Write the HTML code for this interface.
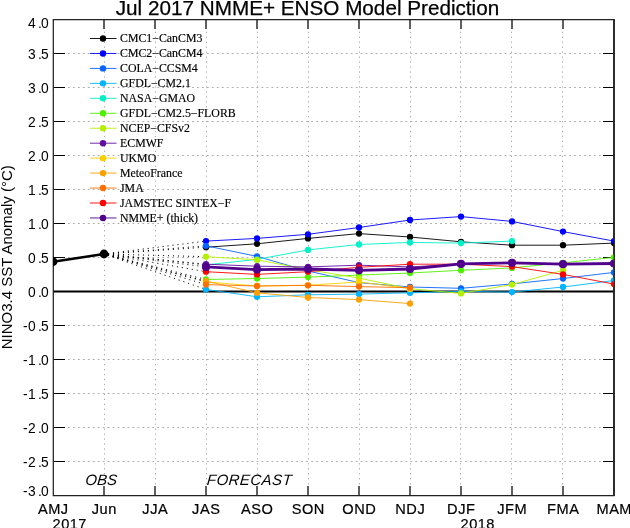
<!DOCTYPE html><html><head><meta charset="utf-8"><style>html,body{margin:0;padding:0;background:#fff;width:630px;height:528px;overflow:hidden}svg{display:block;will-change:transform}</style></head><body>
<svg width="630" height="528" viewBox="0 0 630 528">
<rect width="630" height="528" fill="#fff"/>
<path d="M68.0 53.5H603 M68.0 87.5H603 M68.0 121.5H603 M68.0 155.5H603 M68.0 189.5H603 M68.0 223.5H603 M68.0 257.5H603 M68.0 325.5H603 M68.0 359.5H603 M68.0 393.5H603 M68.0 427.5H603 M68.0 461.5H603" stroke="#ababab" stroke-width="1" stroke-dasharray="1.8 3.162" fill="none"/>
<path d="M104.5 31.7V486 M155.5 31.7V486 M206.5 31.7V486 M257.5 31.7V486 M308.5 31.7V486 M359.5 31.7V486 M410.5 31.7V486 M460.5 31.7V486 M511.5 31.7V486 M562.5 31.7V486" stroke="#ababab" stroke-width="1" stroke-dasharray="1.3 3.66" fill="none"/>
<path d="M53 291.4H614" stroke="#000" stroke-width="2" fill="none"/>
<path d="M53 19.5H65M603 19.5H614 M53 53.5H65M603 53.5H614 M53 87.5H65M603 87.5H614 M53 121.5H65M603 121.5H614 M53 155.5H65M603 155.5H614 M53 189.5H65M603 189.5H614 M53 223.5H65M603 223.5H614 M53 257.5H65M603 257.5H614 M53 291.5H65M603 291.5H614 M53 325.5H65M603 325.5H614 M53 359.5H65M603 359.5H614 M53 393.5H65M603 393.5H614 M53 427.5H65M603 427.5H614 M53 461.5H65M603 461.5H614 M53 495.5H65M603 495.5H614" stroke="#000" stroke-width="1.2" fill="none"/>
<path d="M104 495V486M104 19.5V29 M155 495V486M155 19.5V29 M206 495V486M206 19.5V29 M257 495V486M257 19.5V29 M308 495V486M308 19.5V29 M359 495V486M359 19.5V29 M410 495V486M410 19.5V29 M461 495V486M461 19.5V29 M512 495V486M512 19.5V29 M563 495V486M563 19.5V29" stroke="#444" stroke-width="1.7" fill="none"/>
<path d="M53.3 19.5H614V495.5H53.3Z" stroke="#222" stroke-width="1.25" fill="none"/>
<path d="M614 19V496" stroke="#222" stroke-width="1.7" fill="none"/>
<path d="M104.0 254.0L206.0 247.2 M104.0 254.0L206.0 241.1 M104.0 254.0L206.0 245.8 M104.0 254.0L206.0 289.4 M104.0 254.0L206.0 264.9 M104.0 254.0L206.0 279.5 M104.0 254.0L206.0 256.7 M104.0 254.0L206.0 264.2 M104.0 254.0L206.0 281.9 M104.0 254.0L206.0 281.2 M104.0 254.0L206.0 284.6 M104.0 254.0L206.0 271.7 M104.0 254.0L206.0 266.9" stroke="#000" stroke-width="1" stroke-dasharray="1.1 3.9" stroke-dashoffset="-4" fill="none"/>
<clipPath id="cf"><rect x="53" y="19" width="560.5" height="477"/></clipPath><g clip-path="url(#cf)">
<polyline points="206.0,247.2 257.0,243.8 308.0,238.4 359.0,233.6 410.0,237.0 461.0,241.8 512.0,245.2 563.0,245.2 614.0,243.1" stroke="#000000" stroke-width="0.9" fill="none" stroke-linejoin="round"/>
<circle cx="206.0" cy="247.2" r="3.15" fill="#000000"/><circle cx="257.0" cy="243.8" r="3.15" fill="#000000"/><circle cx="308.0" cy="238.4" r="3.15" fill="#000000"/><circle cx="359.0" cy="233.6" r="3.15" fill="#000000"/><circle cx="410.0" cy="237.0" r="3.15" fill="#000000"/><circle cx="461.0" cy="241.8" r="3.15" fill="#000000"/><circle cx="512.0" cy="245.2" r="3.15" fill="#000000"/><circle cx="563.0" cy="245.2" r="3.15" fill="#000000"/><circle cx="614.0" cy="243.1" r="3.15" fill="#000000"/>
<polyline points="206.0,241.1 257.0,238.4 308.0,234.3 359.0,227.5 410.0,220.0 461.0,216.6 512.0,221.4 563.0,231.6 614.0,241.1" stroke="#0000ff" stroke-width="0.9" fill="none" stroke-linejoin="round"/>
<circle cx="206.0" cy="241.1" r="3.15" fill="#0000ff"/><circle cx="257.0" cy="238.4" r="3.15" fill="#0000ff"/><circle cx="308.0" cy="234.3" r="3.15" fill="#0000ff"/><circle cx="359.0" cy="227.5" r="3.15" fill="#0000ff"/><circle cx="410.0" cy="220.0" r="3.15" fill="#0000ff"/><circle cx="461.0" cy="216.6" r="3.15" fill="#0000ff"/><circle cx="512.0" cy="221.4" r="3.15" fill="#0000ff"/><circle cx="563.0" cy="231.6" r="3.15" fill="#0000ff"/><circle cx="614.0" cy="241.1" r="3.15" fill="#0000ff"/>
<polyline points="206.0,245.8 257.0,256.4 308.0,271.0 359.0,282.6 410.0,287.0 461.0,288.3 512.0,283.9 563.0,278.5 614.0,272.4" stroke="#0a64ff" stroke-width="0.9" fill="none" stroke-linejoin="round"/>
<circle cx="206.0" cy="245.8" r="3.15" fill="#0a64ff"/><circle cx="257.0" cy="256.4" r="3.15" fill="#0a64ff"/><circle cx="308.0" cy="271.0" r="3.15" fill="#0a64ff"/><circle cx="359.0" cy="282.6" r="3.15" fill="#0a64ff"/><circle cx="410.0" cy="287.0" r="3.15" fill="#0a64ff"/><circle cx="461.0" cy="288.3" r="3.15" fill="#0a64ff"/><circle cx="512.0" cy="283.9" r="3.15" fill="#0a64ff"/><circle cx="563.0" cy="278.5" r="3.15" fill="#0a64ff"/><circle cx="614.0" cy="272.4" r="3.15" fill="#0a64ff"/>
<polyline points="206.0,289.4 257.0,296.8 308.0,294.8 359.0,294.1 410.0,292.8 461.0,291.4 512.0,292.1 563.0,287.0 614.0,280.5" stroke="#00b4ff" stroke-width="0.9" fill="none" stroke-linejoin="round"/>
<circle cx="206.0" cy="289.4" r="3.15" fill="#00b4ff"/><circle cx="257.0" cy="296.8" r="3.15" fill="#00b4ff"/><circle cx="308.0" cy="294.8" r="3.15" fill="#00b4ff"/><circle cx="359.0" cy="294.1" r="3.15" fill="#00b4ff"/><circle cx="410.0" cy="292.8" r="3.15" fill="#00b4ff"/><circle cx="461.0" cy="291.4" r="3.15" fill="#00b4ff"/><circle cx="512.0" cy="292.1" r="3.15" fill="#00b4ff"/><circle cx="563.0" cy="287.0" r="3.15" fill="#00b4ff"/><circle cx="614.0" cy="280.5" r="3.15" fill="#00b4ff"/>
<polyline points="206.0,264.9 257.0,259.4 308.0,249.9 359.0,244.5 410.0,242.4 461.0,243.1 512.0,241.1" stroke="#00f0c8" stroke-width="0.9" fill="none" stroke-linejoin="round"/>
<circle cx="206.0" cy="264.9" r="3.15" fill="#00f0c8"/><circle cx="257.0" cy="259.4" r="3.15" fill="#00f0c8"/><circle cx="308.0" cy="249.9" r="3.15" fill="#00f0c8"/><circle cx="359.0" cy="244.5" r="3.15" fill="#00f0c8"/><circle cx="410.0" cy="242.4" r="3.15" fill="#00f0c8"/><circle cx="461.0" cy="243.1" r="3.15" fill="#00f0c8"/><circle cx="512.0" cy="241.1" r="3.15" fill="#00f0c8"/>
<polyline points="206.0,279.5 257.0,278.5 308.0,277.1 359.0,275.1 410.0,273.0 461.0,270.3 512.0,267.9 563.0,262.8 614.0,257.4" stroke="#50f000" stroke-width="0.9" fill="none" stroke-linejoin="round"/>
<circle cx="206.0" cy="279.5" r="3.15" fill="#50f000"/><circle cx="257.0" cy="278.5" r="3.15" fill="#50f000"/><circle cx="308.0" cy="277.1" r="3.15" fill="#50f000"/><circle cx="359.0" cy="275.1" r="3.15" fill="#50f000"/><circle cx="410.0" cy="273.0" r="3.15" fill="#50f000"/><circle cx="461.0" cy="270.3" r="3.15" fill="#50f000"/><circle cx="512.0" cy="267.9" r="3.15" fill="#50f000"/><circle cx="563.0" cy="262.8" r="3.15" fill="#50f000"/><circle cx="614.0" cy="257.4" r="3.15" fill="#50f000"/>
<polyline points="206.0,256.7 257.0,259.8 308.0,269.6 359.0,278.1 410.0,288.7 461.0,293.4 512.0,284.6 563.0,270.3" stroke="#b4f000" stroke-width="0.9" fill="none" stroke-linejoin="round"/>
<circle cx="206.0" cy="256.7" r="3.15" fill="#b4f000"/><circle cx="257.0" cy="259.8" r="3.15" fill="#b4f000"/><circle cx="308.0" cy="269.6" r="3.15" fill="#b4f000"/><circle cx="359.0" cy="278.1" r="3.15" fill="#b4f000"/><circle cx="410.0" cy="288.7" r="3.15" fill="#b4f000"/><circle cx="461.0" cy="293.4" r="3.15" fill="#b4f000"/><circle cx="512.0" cy="284.6" r="3.15" fill="#b4f000"/><circle cx="563.0" cy="270.3" r="3.15" fill="#b4f000"/>
<polyline points="206.0,264.2 257.0,266.2 308.0,266.9 359.0,265.2 410.0,266.9 461.0,264.2" stroke="#6010a0" stroke-width="0.9" fill="none" stroke-linejoin="round"/>
<circle cx="206.0" cy="264.2" r="3.15" fill="#6010a0"/><circle cx="257.0" cy="266.2" r="3.15" fill="#6010a0"/><circle cx="308.0" cy="266.9" r="3.15" fill="#6010a0"/><circle cx="359.0" cy="265.2" r="3.15" fill="#6010a0"/><circle cx="410.0" cy="266.9" r="3.15" fill="#6010a0"/><circle cx="461.0" cy="264.2" r="3.15" fill="#6010a0"/>
<polyline points="206.0,281.9 257.0,286.0 308.0,285.3 359.0,281.9 410.0,288.7" stroke="#ffd000" stroke-width="0.9" fill="none" stroke-linejoin="round"/>
<circle cx="206.0" cy="281.9" r="3.15" fill="#ffd000"/><circle cx="257.0" cy="286.0" r="3.15" fill="#ffd000"/><circle cx="308.0" cy="285.3" r="3.15" fill="#ffd000"/><circle cx="359.0" cy="281.9" r="3.15" fill="#ffd000"/><circle cx="410.0" cy="288.7" r="3.15" fill="#ffd000"/>
<polyline points="206.0,281.2 257.0,292.8 308.0,297.5 359.0,299.6 410.0,303.6" stroke="#ffa000" stroke-width="0.9" fill="none" stroke-linejoin="round"/>
<circle cx="206.0" cy="281.2" r="3.15" fill="#ffa000"/><circle cx="257.0" cy="292.8" r="3.15" fill="#ffa000"/><circle cx="308.0" cy="297.5" r="3.15" fill="#ffa000"/><circle cx="359.0" cy="299.6" r="3.15" fill="#ffa000"/><circle cx="410.0" cy="303.6" r="3.15" fill="#ffa000"/>
<polyline points="206.0,284.6 257.0,286.0 308.0,285.3 359.0,286.6 410.0,287.7" stroke="#ff7000" stroke-width="0.9" fill="none" stroke-linejoin="round"/>
<circle cx="206.0" cy="284.6" r="3.15" fill="#ff7000"/><circle cx="257.0" cy="286.0" r="3.15" fill="#ff7000"/><circle cx="308.0" cy="285.3" r="3.15" fill="#ff7000"/><circle cx="359.0" cy="286.6" r="3.15" fill="#ff7000"/><circle cx="410.0" cy="287.7" r="3.15" fill="#ff7000"/>
<polyline points="206.0,271.7 257.0,274.4 308.0,271.7 359.0,267.3 410.0,264.2 461.0,264.2 512.0,266.6 563.0,274.4 614.0,284.1" stroke="#ff0000" stroke-width="0.9" fill="none" stroke-linejoin="round"/>
<circle cx="206.0" cy="271.7" r="3.15" fill="#ff0000"/><circle cx="257.0" cy="274.4" r="3.15" fill="#ff0000"/><circle cx="308.0" cy="271.7" r="3.15" fill="#ff0000"/><circle cx="359.0" cy="267.3" r="3.15" fill="#ff0000"/><circle cx="410.0" cy="264.2" r="3.15" fill="#ff0000"/><circle cx="461.0" cy="264.2" r="3.15" fill="#ff0000"/><circle cx="512.0" cy="266.6" r="3.15" fill="#ff0000"/><circle cx="563.0" cy="274.4" r="3.15" fill="#ff0000"/><circle cx="614.0" cy="284.1" r="3.15" fill="#ff0000"/>
<polyline points="206.0,266.9 257.0,269.6 308.0,269.0 359.0,270.3 410.0,269.0 461.0,263.9 512.0,262.8 563.0,264.2 614.0,263.5" stroke="#50008c" stroke-width="2.8" fill="none" stroke-linejoin="round"/>
<circle cx="206.0" cy="266.9" r="4.1" fill="#50008c"/><circle cx="257.0" cy="269.6" r="4.1" fill="#50008c"/><circle cx="308.0" cy="269.0" r="4.1" fill="#50008c"/><circle cx="359.0" cy="270.3" r="4.1" fill="#50008c"/><circle cx="410.0" cy="269.0" r="4.1" fill="#50008c"/><circle cx="461.0" cy="263.9" r="4.1" fill="#50008c"/><circle cx="512.0" cy="262.8" r="4.1" fill="#50008c"/><circle cx="563.0" cy="264.2" r="4.1" fill="#50008c"/><circle cx="614.0" cy="263.5" r="4.1" fill="#50008c"/>
</g>
<clipPath id="c"><rect x="53" y="19" width="562" height="477"/></clipPath>
<g clip-path="url(#c)"><polyline points="53.0,261.7 104.0,254.0" stroke="#000" stroke-width="2.5" fill="none"/>
<circle cx="53.0" cy="261.7" r="4.4"/><circle cx="104.0" cy="254.0" r="4.4"/></g>
<path d="M90 38.5H116.5" stroke="#000000" stroke-width="1" opacity="0.9"/><circle cx="103" cy="38.5" r="3.2" fill="#000000"/>
<text x="120.0" y="41.7" font-family="Liberation Serif" font-size="11.85" fill="#000" stroke="#000" stroke-width="0.15">CMC1−CanCM3</text>
<path d="M90 53.45H116.5" stroke="#0000ff" stroke-width="1" opacity="0.9"/><circle cx="103" cy="53.45" r="3.2" fill="#0000ff"/>
<text x="120.0" y="56.7" font-family="Liberation Serif" font-size="11.85" fill="#000" stroke="#000" stroke-width="0.15">CMC2−CanCM4</text>
<path d="M90 68.41H116.5" stroke="#0a64ff" stroke-width="1" opacity="0.9"/><circle cx="103" cy="68.41" r="3.2" fill="#0a64ff"/>
<text x="120.0" y="71.7" font-family="Liberation Serif" font-size="11.85" fill="#000" stroke="#000" stroke-width="0.15">COLA−CCSM4</text>
<path d="M90 83.37H116.5" stroke="#00b4ff" stroke-width="1" opacity="0.9"/><circle cx="103" cy="83.37" r="3.2" fill="#00b4ff"/>
<text x="120.0" y="86.7" font-family="Liberation Serif" font-size="11.85" fill="#000" stroke="#000" stroke-width="0.15">GFDL−CM2.1</text>
<path d="M90 98.32H116.5" stroke="#00f0c8" stroke-width="1" opacity="0.9"/><circle cx="103" cy="98.32" r="3.2" fill="#00f0c8"/>
<text x="120.0" y="101.7" font-family="Liberation Serif" font-size="11.85" fill="#000" stroke="#000" stroke-width="0.15">NASA−GMAO</text>
<path d="M90 113.28H116.5" stroke="#50f000" stroke-width="1" opacity="0.9"/><circle cx="103" cy="113.28" r="3.2" fill="#50f000"/>
<text x="120.0" y="116.7" font-family="Liberation Serif" font-size="11.85" fill="#000" stroke="#000" stroke-width="0.15">GFDL−CM2.5−FLORB</text>
<path d="M90 128.23H116.5" stroke="#b4f000" stroke-width="1" opacity="0.9"/><circle cx="103" cy="128.23" r="3.2" fill="#b4f000"/>
<text x="120.0" y="131.7" font-family="Liberation Serif" font-size="11.85" fill="#000" stroke="#000" stroke-width="0.15">NCEP−CFSv2</text>
<path d="M90 143.19H116.5" stroke="#6010a0" stroke-width="1" opacity="0.9"/><circle cx="103" cy="143.19" r="3.2" fill="#6010a0"/>
<text x="120.0" y="146.7" font-family="Liberation Serif" font-size="11.85" fill="#000" stroke="#000" stroke-width="0.15">ECMWF</text>
<path d="M90 158.14H116.5" stroke="#ffd000" stroke-width="1" opacity="0.9"/><circle cx="103" cy="158.14" r="3.2" fill="#ffd000"/>
<text x="120.0" y="161.7" font-family="Liberation Serif" font-size="11.85" fill="#000" stroke="#000" stroke-width="0.15">UKMO</text>
<path d="M90 173.09H116.5" stroke="#ffa000" stroke-width="1" opacity="0.9"/><circle cx="103" cy="173.09" r="3.2" fill="#ffa000"/>
<text x="120.0" y="176.7" font-family="Liberation Serif" font-size="11.85" fill="#000" stroke="#000" stroke-width="0.15">MeteoFrance</text>
<path d="M90 188.05H116.5" stroke="#ff7000" stroke-width="1" opacity="0.9"/><circle cx="103" cy="188.05" r="3.2" fill="#ff7000"/>
<text x="120.0" y="191.7" font-family="Liberation Serif" font-size="11.85" fill="#000" stroke="#000" stroke-width="0.15">JMA</text>
<path d="M90 203.0H116.5" stroke="#ff0000" stroke-width="1" opacity="0.9"/><circle cx="103" cy="203.0" r="3.2" fill="#ff0000"/>
<text x="120.0" y="206.7" font-family="Liberation Serif" font-size="11.85" fill="#000" stroke="#000" stroke-width="0.15">JAMSTEC SINTEX−F</text>
<path d="M90 217.96H116.5" stroke="#50008c" stroke-width="1" opacity="0.9"/><circle cx="103" cy="217.96" r="3.2" fill="#50008c"/>
<text x="120.0" y="221.7" font-family="Liberation Serif" font-size="11.85" fill="#000" stroke="#000" stroke-width="0.15">NMME+ (thick)</text>
<text x="28.0 38.0 41.0" y="27.9" font-family="Liberation Sans" font-size="13.8">4.0</text>
<text x="28.0 38.0 41.0" y="59.2" font-family="Liberation Sans" font-size="13.8">3.5</text>
<text x="28.0 38.0 41.0" y="93.2" font-family="Liberation Sans" font-size="13.8">3.0</text>
<text x="28.0 38.0 41.0" y="127.2" font-family="Liberation Sans" font-size="13.8">2.5</text>
<text x="28.0 38.0 41.0" y="161.2" font-family="Liberation Sans" font-size="13.8">2.0</text>
<text x="28.0 38.0 41.0" y="195.2" font-family="Liberation Sans" font-size="13.8">1.5</text>
<text x="28.0 38.0 41.0" y="229.2" font-family="Liberation Sans" font-size="13.8">1.0</text>
<text x="28.0 38.0 41.0" y="263.2" font-family="Liberation Sans" font-size="13.8">0.5</text>
<text x="28.0 38.0 41.0" y="297.2" font-family="Liberation Sans" font-size="13.8">0.0</text>
<text x="22.9 28.0 38.0 41.0" y="331.2" font-family="Liberation Sans" font-size="13.8">-0.5</text>
<text x="22.9 28.0 38.0 41.0" y="365.2" font-family="Liberation Sans" font-size="13.8">-1.0</text>
<text x="22.9 28.0 38.0 41.0" y="399.2" font-family="Liberation Sans" font-size="13.8">-1.5</text>
<text x="22.9 28.0 38.0 41.0" y="433.2" font-family="Liberation Sans" font-size="13.8">-2.0</text>
<text x="22.9 28.0 38.0 41.0" y="467.2" font-family="Liberation Sans" font-size="13.8">-2.5</text>
<text x="22.9 28.0 38.0 41.0" y="496.2" font-family="Liberation Sans" font-size="13.8">-3.0</text>
<text x="53.0" y="514" text-anchor="middle" font-family="Liberation Sans" font-size="14.6" letter-spacing="0.5" dx="0.25" stroke="#000" stroke-width="0.2">AMJ</text>
<text x="104.0" y="514" text-anchor="middle" font-family="Liberation Sans" font-size="14.6" letter-spacing="0.5" dx="0.25" stroke="#000" stroke-width="0.2">Jun</text>
<text x="155.0" y="514" text-anchor="middle" font-family="Liberation Sans" font-size="14.6" letter-spacing="0.5" dx="0.25" stroke="#000" stroke-width="0.2">JJA</text>
<text x="206.0" y="514" text-anchor="middle" font-family="Liberation Sans" font-size="14.6" letter-spacing="0.5" dx="0.25" stroke="#000" stroke-width="0.2">JAS</text>
<text x="257.0" y="514" text-anchor="middle" font-family="Liberation Sans" font-size="14.6" letter-spacing="0.5" dx="0.25" stroke="#000" stroke-width="0.2">ASO</text>
<text x="308.0" y="514" text-anchor="middle" font-family="Liberation Sans" font-size="14.6" letter-spacing="0.5" dx="0.25" stroke="#000" stroke-width="0.2">SON</text>
<text x="359.0" y="514" text-anchor="middle" font-family="Liberation Sans" font-size="14.6" letter-spacing="0.5" dx="0.25" stroke="#000" stroke-width="0.2">OND</text>
<text x="410.0" y="514" text-anchor="middle" font-family="Liberation Sans" font-size="14.6" letter-spacing="0.5" dx="0.25" stroke="#000" stroke-width="0.2">NDJ</text>
<text x="461.0" y="514" text-anchor="middle" font-family="Liberation Sans" font-size="14.6" letter-spacing="0.5" dx="0.25" stroke="#000" stroke-width="0.2">DJF</text>
<text x="512.0" y="514" text-anchor="middle" font-family="Liberation Sans" font-size="14.6" letter-spacing="0.5" dx="0.25" stroke="#000" stroke-width="0.2">JFM</text>
<text x="563.0" y="514" text-anchor="middle" font-family="Liberation Sans" font-size="14.6" letter-spacing="0.5" dx="0.25" stroke="#000" stroke-width="0.2">FMA</text>
<text x="614.0" y="514" text-anchor="middle" font-family="Liberation Sans" font-size="14.6" letter-spacing="0.5" dx="0.25" stroke="#000" stroke-width="0.2">MAM</text>
<text x="69.5" y="528.8" text-anchor="middle" font-family="Liberation Sans" font-size="14.6" letter-spacing="0.5" dx="0.25" stroke="#000" stroke-width="0.2">2017</text>
<text x="477.5" y="528.8" text-anchor="middle" font-family="Liberation Sans" font-size="14.6" letter-spacing="0.5" dx="0.25" stroke="#000" stroke-width="0.2">2018</text>
<g transform="translate(0,484.8) skewX(-5)"><text x="100.9" y="0" text-anchor="middle" font-family="Liberation Sans" font-style="italic" font-size="15">OBS</text>
<text x="206.6" y="0" font-family="Liberation Sans" font-style="italic" font-size="15" letter-spacing="0.45">FORECAST</text></g>
<text x="307.5" y="14.6" text-anchor="middle" font-family="Liberation Sans" font-size="20.7" stroke="#000" stroke-width="0.25">Jul 2017 NMME+ ENSO Model Prediction</text>
<text transform="translate(12.2,257.3) rotate(-90)" text-anchor="middle" font-family="Liberation Sans" font-size="15">NINO3.4 SST Anomaly (°C)</text>
</svg></body></html>
